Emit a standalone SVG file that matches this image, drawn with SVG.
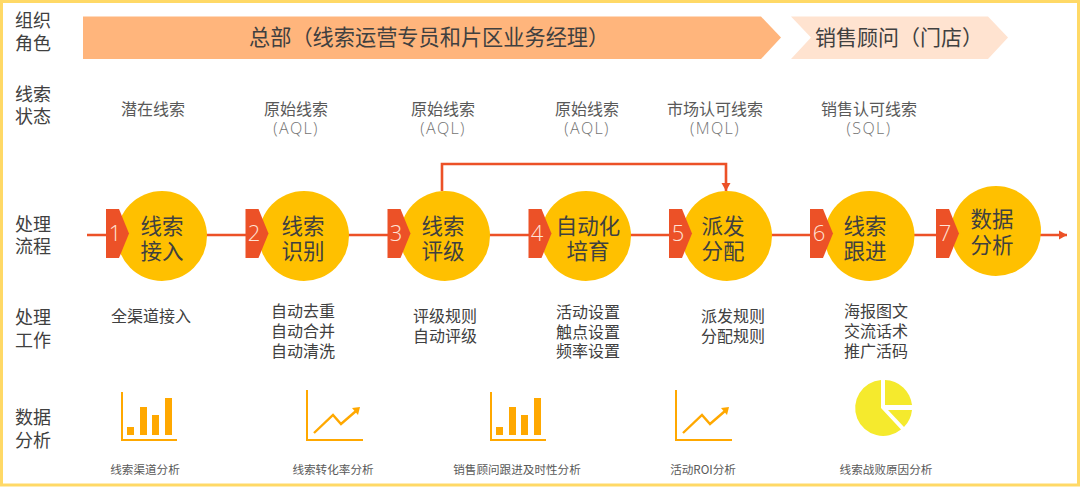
<svg xmlns="http://www.w3.org/2000/svg" width="1080" height="487" viewBox="0 0 1080 487">
<style>
text{font-family:"Noto Sans CJK SC","Noto Sans",sans-serif;text-anchor:middle}
.role{font-size:18px;fill:#404040}
.st{font-size:16px;fill:#595959}
.q{font-size:16px;fill:#737373;font-family:"Open Sans","Noto Sans",sans-serif;font-weight:300;letter-spacing:1.4px}
.w{font-size:16px;fill:#404040}
.ban{font-size:21.2px;fill:#404040;text-anchor:start}
.c{font-size:21.5px;fill:#404040}
.n{font-size:22px;fill:#ffe3d6;font-family:"Open Sans","Noto Sans",sans-serif;font-weight:300}
.cap{font-size:11.6px;fill:#595959}
.circ{fill:#FFC000}
.pent{fill:#EC5127}
.ln{fill:none;stroke:#EC5127;stroke-width:2.6}
.ax{fill:none;stroke:#FFA800;stroke-width:2}
.bar{fill:#FFA800}
.up{fill:none;stroke:#FFA800;stroke-width:2.4}
.pie{fill:#F5EA2D}
</style>
<defs>
<marker id="ah" markerUnits="userSpaceOnUse" markerWidth="10" markerHeight="10" refX="8" refY="5" orient="auto"><path d="M0 0.500L8 5L0 9.500Z" fill="#EC5127"/></marker>
<polygon id="p" points="0,0 13,0 23,24.500 13,49 0,49"/>
<g id="barIcon"><path class="ax" d="M122 392V440H177"/><rect class="bar" x="127" y="427" width="7" height="8"/><rect class="bar" x="140" y="407" width="7" height="28"/><rect class="bar" x="152" y="415" width="7" height="20"/><rect class="bar" x="165" y="398" width="7" height="37"/></g>
<g id="lineIcon"><path class="ax" d="M307 390V440H363"/><path class="up" d="M314 433L333 415L341 424L356 411"/><path class="bar" d="M352 408L360 407L358 415Z"/></g>
</defs>
<rect id="frame" x="1.500" y="1.500" width="1077" height="483.500" fill="#fff" stroke="#FFD966" stroke-width="3"/>
<g id="connectors">
<path class="ln" d="M87 235H1067" marker-end="url(#ah)"/>
<path class="ln" d="M442 191V164H726V191" marker-end="url(#ah)"/>
</g>
<g id="role-hq"><polygon points="83,16.500 761,16.500 781,37.500 761,59 83,59" fill="#FFB57C"/><text class="ban" x="249" y="45">总部（线索运营专员和片区业务经理）</text></g>
<g id="role-sales"><polygon points="791,16.500 988,16.500 1008,37.500 988,59 791,59 811,37.500" fill="#FFE3D0"/><text class="ban" x="815" y="45" style="font-size:21px">销售顾问（门店）</text></g>
<g id="row-labels">
<text class="role" x="33" y="27">组织<tspan x="33" dy="23">角色</tspan></text>
<text class="role" x="33" y="101">线索<tspan x="33" dy="22">状态</tspan></text>
<text class="role" x="33" y="231">处理<tspan x="33" dy="22">流程</tspan></text>
<text class="role" x="33" y="324">处理<tspan x="33" dy="23">工作</tspan></text>
<text class="role" x="33" y="424">数据<tspan x="33" dy="23">分析</tspan></text>
</g>
<g id="status">
<text class="st" x="153" y="115">潜在线索</text>
<text class="st" x="296" y="115">原始线索<tspan class="q" x="296" dy="19">(AQL)</tspan></text>
<text class="st" x="443" y="115">原始线索<tspan class="q" x="443" dy="19">(AQL)</tspan></text>
<text class="st" x="587" y="115">原始线索<tspan class="q" x="587" dy="19">(AQL)</tspan></text>
<text class="st" x="715" y="115">市场认可线索<tspan class="q" x="715" dy="19">(MQL)</tspan></text>
<text class="st" x="869" y="115">销售认可线索<tspan class="q" x="869" dy="19">(SQL)</tspan></text>
</g>
<g id="n1"><circle class="circ" cx="162" cy="236" r="45"/><use href="#p" class="pent" x="106" y="209"/><text class="n" x="115" y="241">1</text><text class="c" x="162" y="233.500">线索<tspan x="162" dy="25.500">接入</tspan></text></g>
<g id="n2"><circle class="circ" cx="304" cy="236" r="45"/><use href="#p" class="pent" x="245.500" y="209"/><text class="n" x="254" y="241">2</text><text class="c" x="303" y="233.500">线索<tspan x="303" dy="25.500">识别</tspan></text></g>
<g id="n3"><circle class="circ" cx="445" cy="236" r="45"/><use href="#p" class="pent" x="387.500" y="209"/><text class="n" x="396" y="241">3</text><text class="c" x="443" y="233.500">线索<tspan x="443" dy="25.500">评级</tspan></text></g>
<g id="n4"><circle class="circ" cx="586" cy="236" r="45"/><use href="#p" class="pent" x="528.500" y="209"/><text class="n" x="537" y="241">4</text><text class="c" x="588" y="233.500">自动化<tspan x="588" dy="25.500">培育</tspan></text></g>
<g id="n5"><circle class="circ" cx="727" cy="236" r="45"/><use href="#p" class="pent" x="669" y="209"/><text class="n" x="678" y="241">5</text><text class="c" x="723" y="233.500">派发<tspan x="723" dy="25.500">分配</tspan></text></g>
<g id="n6"><circle class="circ" cx="869.500" cy="236" r="45"/><use href="#p" class="pent" x="810" y="209"/><text class="n" x="819" y="241">6</text><text class="c" x="865" y="233.500">线索<tspan x="865" dy="25.500">跟进</tspan></text></g>
<g id="n7"><circle class="circ" cx="996" cy="231" r="45"/><use href="#p" class="pent" x="936" y="209"/><text class="n" x="945" y="241">7</text><text class="c" x="992" y="227">数据<tspan x="992" dy="25.500">分析</tspan></text></g>
<g id="work">
<text class="w" x="151" y="322">全渠道接入</text>
<text class="w" x="303" y="317">自动去重<tspan x="303" dy="20">自动合并</tspan><tspan x="303" dy="20">自动清洗</tspan></text>
<text class="w" x="445" y="322">评级规则<tspan x="445" dy="20">自动评级</tspan></text>
<text class="w" x="588" y="318">活动设置<tspan x="588" dy="19.500">触点设置</tspan><tspan x="588" dy="19.500">频率设置</tspan></text>
<text class="w" x="733" y="322">派发规则<tspan x="733" dy="20">分配规则</tspan></text>
<text class="w" x="876" y="317">海报图文<tspan x="876" dy="20">交流话术</tspan><tspan x="876" dy="20">推广活码</tspan></text>
</g>
<g id="analysis">
<use href="#barIcon"/><use href="#lineIcon"/><use href="#barIcon" x="369"/><use href="#lineIcon" x="369"/>
<path class="pie" d="M881 380A28 28 0 1 0 901 429.500L881 408Z"/>
<path class="pie" d="M885 380A28 28 0 0 1 912 405H885Z"/>
<path class="pie" d="M888 410H912A28 28 0 0 1 904 427Z"/>
<text class="cap" x="145" y="474">线索渠道分析</text>
<text class="cap" x="333" y="474">线索转化率分析</text>
<text class="cap" x="517" y="474">销售顾问跟进及时性分析</text>
<text class="cap" x="703" y="474">活动ROI分析</text>
<text class="cap" x="886" y="474">线索战败原因分析</text>
</g>
</svg>
